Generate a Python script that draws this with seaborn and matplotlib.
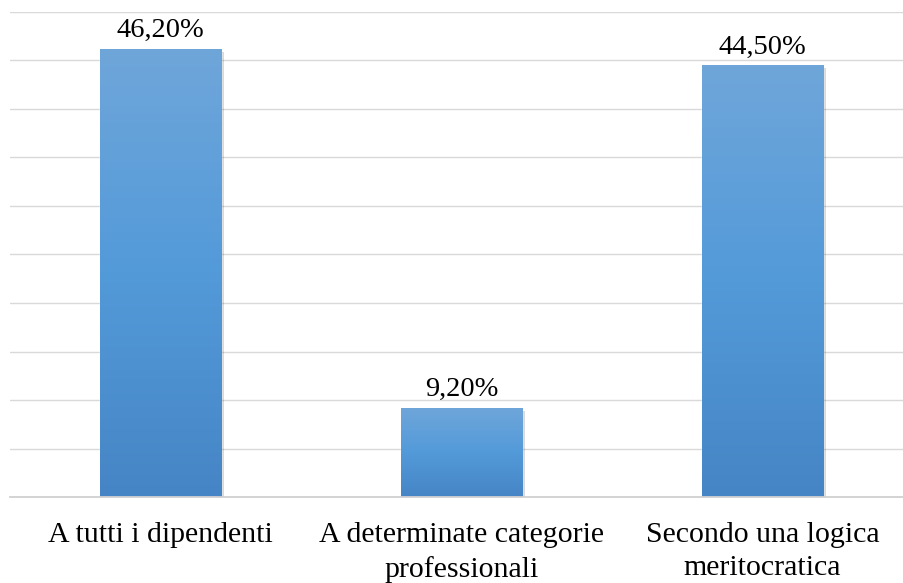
import numpy as np
import pandas as pd
import matplotlib
matplotlib.use("Agg")
import matplotlib.pyplot as plt
import seaborn as sns
from matplotlib import patheffects as pe
from matplotlib.colors import LinearSegmentedColormap

categories = ["A tutti i dipendenti", "A determinate categorie\nprofessionali", "Secondo una logica\nmeritocratica"]
values = [46.2, 9.2, 44.5]
value_labels = ["46,20%", "9,20%", "44,50%"]

sns.set_theme(style="white")
plt.rcParams['font.family'] = ['Liberation Serif', 'DejaVu Serif']

df = pd.DataFrame({"cat": categories, "val": values})

fig = plt.figure(figsize=(9.04, 5.83), dpi=100)
ax = fig.add_axes([10/904, (583-497)/583, 1 - 10/904, (497-12)/583])

sns.barplot(data=df, x="cat", y="val", color="#5b9bd5", width=0.402, ax=ax,
            saturation=1, zorder=3)

ax.set_ylim(0, 50)
ax.set_xlim(-0.5, -0.5 + 894/301)
ax.set_yticks(np.arange(5, 50.1, 5))
ax.yaxis.grid(True, color="#d9d9d9", linewidth=1.0, zorder=0)
ax.set_axisbelow(True)
for s in ["top", "right", "left"]:
    ax.spines[s].set_visible(False)
ax.spines["bottom"].set_color("#d0d0d0")
ax.spines["bottom"].set_linewidth(1.3)
ax.spines["bottom"].set_zorder(5)
ax.set_ylabel("")
ax.set_xlabel("")
ax.set_yticklabels([])
ax.tick_params(axis="y", length=0)
ax.tick_params(axis="x", length=0, pad=18, labelsize=21.5, labelcolor="#000000")
for t in ax.get_xticklabels():
    t.set_linespacing(1.36)

cmap = LinearSegmentedColormap.from_list("g", ["#4685c5", "#539ad9", "#6fa6da"])
grad = np.linspace(0, 1, 256).reshape(-1, 1)
for p in ax.patches:
    p.set_path_effects([pe.SimplePatchShadow(offset=(2, -2), shadow_rgbFace="#000000", alpha=0.15), pe.Normal()])
    x0, y0 = p.get_x(), p.get_y()
    w, h = p.get_width(), p.get_height()
    im = ax.imshow(grad, cmap=cmap, aspect="auto", origin="lower",
                   extent=[x0, x0 + w, y0, y0 + h], zorder=4)
    im.set_clip_path(p)

ax.set_xlim(-0.5, -0.5 + 894/301)
ax.set_ylim(0, 50)

ax.bar_label(ax.containers[0], labels=value_labels, padding=4, fontsize=20.5, color="#000000")

fig.savefig("out.png", dpi=100)
